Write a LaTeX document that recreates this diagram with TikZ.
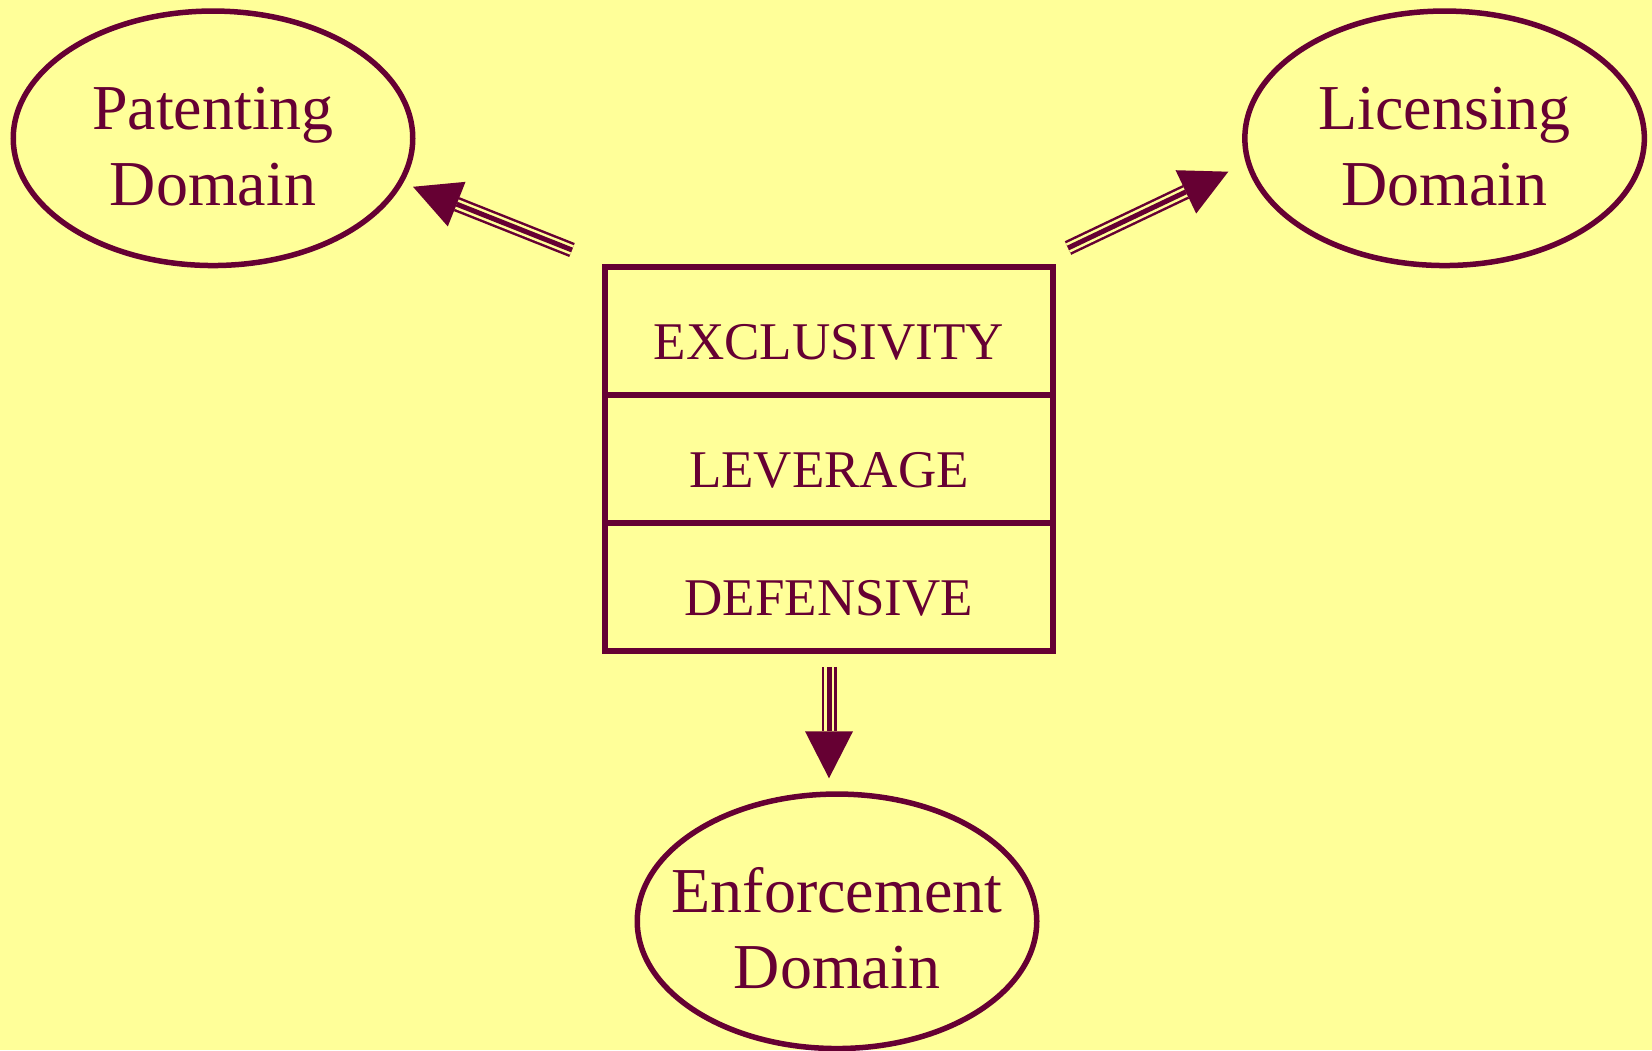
\documentclass[tikz,border=0pt]{standalone}
\usepackage{fontspec}
\setmainfont{Liberation Serif}
\usetikzlibrary{shapes.geometric,calc}

\definecolor{ink}{RGB}{102,0,51}
\definecolor{paper}{RGB}{255,255,153}

% three-strand arrow with a filled triangular head
\newcommand\triplearrow[2]{%
  \path ($(#2)!47pt!(#1)$) coordinate (hb);
  \draw[line width=15pt, ink] (#1) -- (hb);
  \draw[line width=10pt, paper] (#1) -- (hb);
  \draw[line width=5pt, ink] (#1) -- (hb);
  \fill[ink] (#2) -- ($(hb)!24pt!90:(#2)$) -- ($(hb)!24pt!-90:(#2)$) -- cycle;
}

\tikzset{
  domainoval/.style={ellipse, draw=ink, line width=5.5pt, inner sep=0pt,
    minimum width=399.5pt, minimum height=254.5pt},
  domaintext/.style={anchor=south, inner sep=0pt, align=center, text=ink,
    font=\fontsize{64}{76}\selectfont},
  recrow/.style={rectangle, draw=ink, line width=6pt, inner sep=0pt,
    minimum width=448pt, minimum height=128pt, text=ink,
    text height=57pt, text depth=0pt,
    font=\fontsize{53}{60}\selectfont}
}

\begin{document}
\begin{tikzpicture}[x=1pt, y=1pt]
  \fill[paper] (0,0) rectangle (1652,1050);
  \useasboundingbox (0,0) rectangle (1652,1050);

  % the three domains
  \node[domainoval] (pat) at (213,911.7) {};
  \node[domainoval] (lic) at (1444.6,911.7) {};
  \node[domainoval] (enf) at (837,128.7) {};
  \node[domaintext] (patt) at ([yshift=-68]pat.center) {Patenting\\Domain};
  \node[domaintext] (lict) at ([yshift=-68]lic.center) {Licensing\\Domain};
  \node[domaintext] (enft) at ([yshift=-68]enf.center) {Enforcement\\Domain};

  % central record
  \node[recrow] (ex)  at (829,719) {EXCLUSIVITY};
  \node[recrow] (lev) at (829,591) {LEVERAGE};
  \node[recrow] (def) at (829,463) {DEFENSIVE};

  % arrow end points
  \coordinate (patTail) at ([shift={(-30,14)}]ex.north west);
  \coordinate (patTip)  at ([shift={(200,-48.5)}]pat.center);
  \coordinate (licTail) at ([shift={(12,16)}]ex.north east);
  \coordinate (licTip)  at ([shift={(-216.3,-33.4)}]lic.center);
  \coordinate (enfTail) at ([shift={(0,-13)}]def.south);
  \coordinate (enfTip)  at ([shift={(-8,143)}]enf.center);

  \triplearrow{patTail}{patTip}
  \triplearrow{licTail}{licTip}
  \triplearrow{enfTail}{enfTip}
\end{tikzpicture}
\end{document}
